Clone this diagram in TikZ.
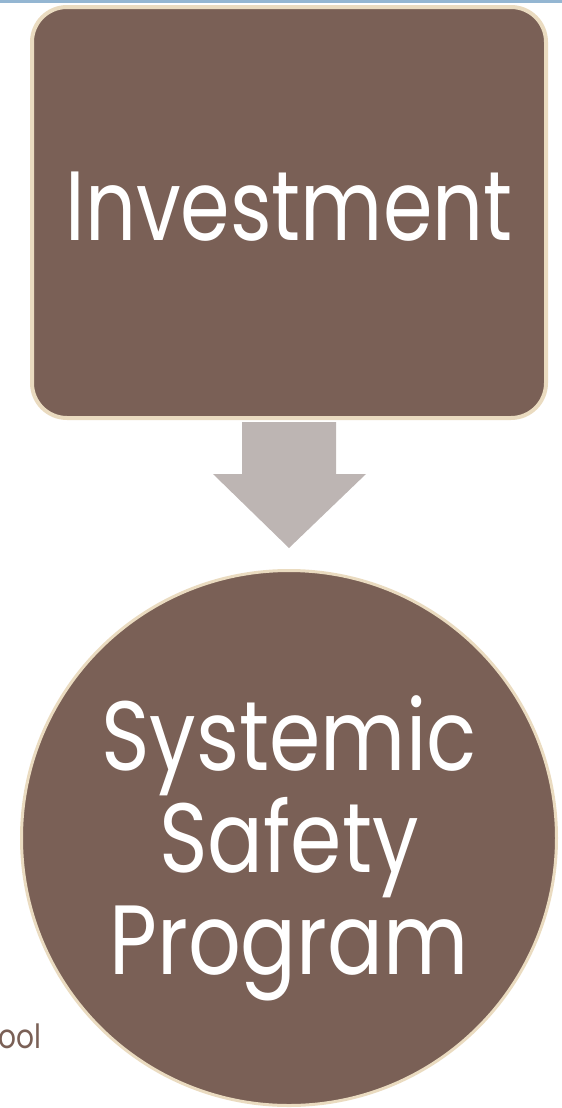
\documentclass[tikz,border=0pt]{standalone}
\usepackage{fontspec}
\setmainfont{Poppins}
\usepackage{tikz}
\usetikzlibrary{positioning,calc}
\definecolor{boxbrown}{HTML}{7A6056}
\definecolor{rimcream}{HTML}{EADBC0}
\definecolor{arrowgray}{HTML}{BDB5B3}
\definecolor{topblue}{HTML}{94B6D2}
\begin{document}
\begin{tikzpicture}[
  big/.style={font=\fontsize{56}{58}\selectfont,text=white,align=center,xscale=#1,transform shape},
  big/.default=0.84,
  stage/.style={draw=rimcream,fill=boxbrown,line width=#1},
  stage/.default=0.08cm]
\useasboundingbox (0,0) rectangle (11.24,-22.16);
% ---- slide edge
\fill[topblue] (0,0) rectangle (11.24,-0.06);
\node[font=\fontsize{19}{21}\selectfont,text=boxbrown,anchor=base east,inner sep=0pt,xscale=0.84,transform shape] (tail) at (0.84,-20.96) {ool};
% ---- stages
\node[stage,rounded corners=0.7cm,minimum width=10.28cm,minimum height=8.22cm] (inv) at (5.78,-4.25) {};
\node[big=0.81,yshift=0.12cm] (invtxt) at (inv) {Investment};
\node[stage=0.06cm,circle,minimum size=10.7cm] (ssp) at (5.78,-16.76) {};
\node[big,yshift=-0.2cm] (ssptxt) at (ssp) {Systemic\\ Safety\\ Program};
% ---- arrow between them
\fill[arrowgray] ($(inv.south)+(-0.94,-0.04)$) -- ($(inv.south)+(0.94,-0.04)$)
  -- ($(inv.south)+(0.94,-1.08)$) -- ($(inv.south)+(1.54,-1.08)$)
  -- ($(ssp.north)+(0,0.42)$) -- ($(inv.south)+(-1.52,-1.08)$)
  -- ($(inv.south)+(-0.94,-1.08)$) -- cycle;
\end{tikzpicture}
\end{document}
